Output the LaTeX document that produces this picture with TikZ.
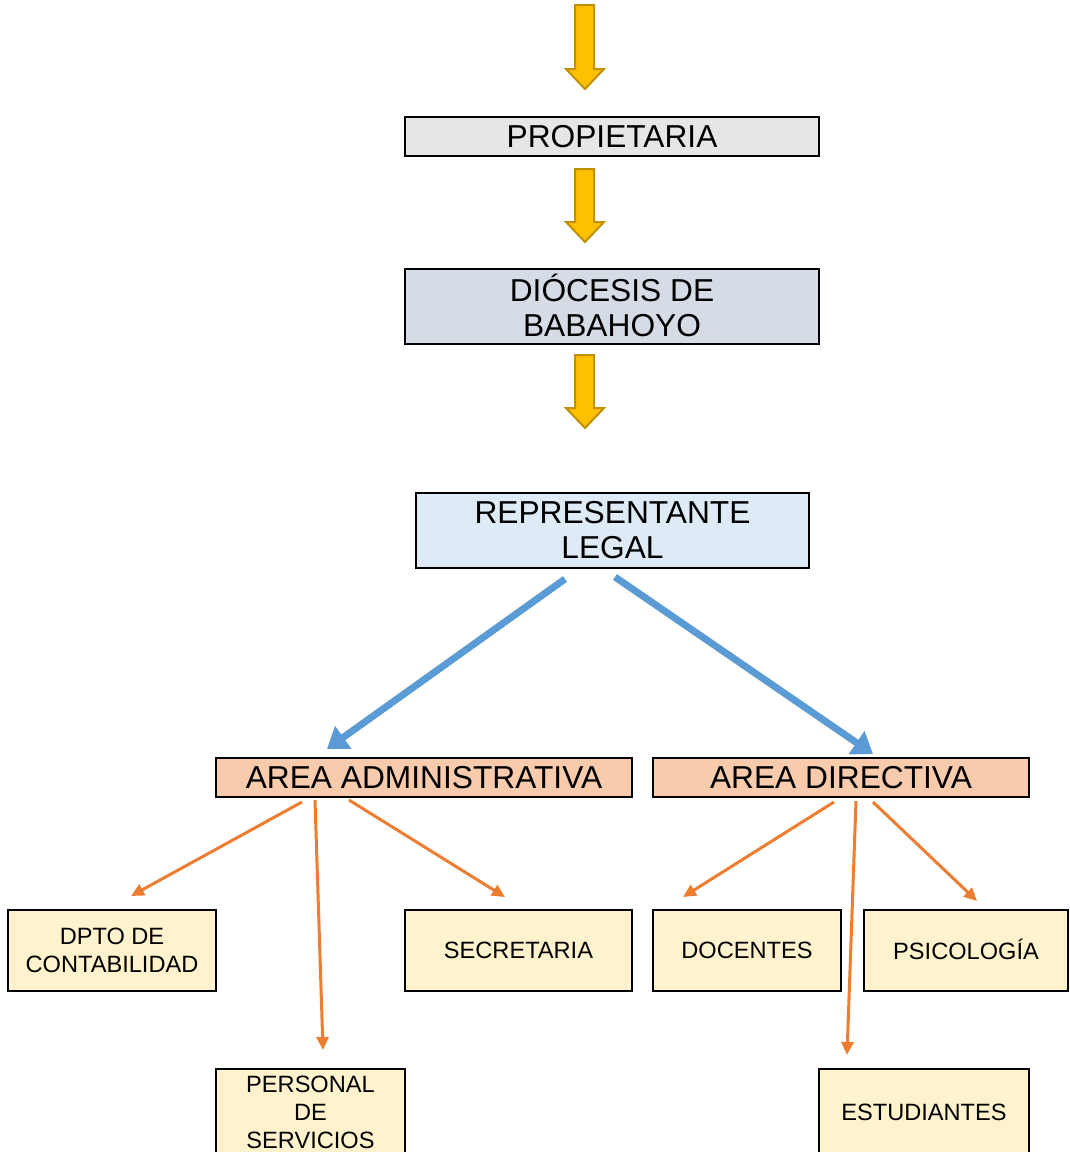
\documentclass[tikz,border=0pt]{standalone}
\usepackage{fontspec}
\setmainfont{Liberation Sans}
\usepackage{xcolor}
\usetikzlibrary{arrows.meta, positioning, calc}

\definecolor{propgray}{HTML}{E7E6E6}
\definecolor{diocblue}{HTML}{D6DCE5}
\definecolor{replight}{HTML}{DEEBF7}
\definecolor{areapeach}{HTML}{F8CBAD}
\definecolor{unitcream}{HTML}{FFF2CC}
\definecolor{arrowgold}{HTML}{FFC000}
\definecolor{arrowedge}{HTML}{BF9000}
\definecolor{linkblue}{HTML}{5B9BD5}
\definecolor{linkorange}{HTML}{ED7D31}

\begin{document}
\begin{tikzpicture}[
        x=1pt, y=-1pt,
        bigbox/.style={rectangle, draw, line width=2pt, align=center, inner sep=0pt,
            font=\fontsize{31.7}{35}\selectfont},
        unitbox/.style={rectangle, draw, line width=2pt, fill=unitcream, align=center, inner sep=0pt,
            font=\fontsize{23.6}{28}\selectfont},
        goldarrow/.style={fill=arrowgold, draw=arrowedge, line width=2pt, line join=miter},
        bluelink/.style={-{Triangle[length=20pt, width=27pt]}, line width=7pt, linkblue},
        orangelink/.style={-{Triangle[length=13pt, width=12pt]}, line width=3pt, linkorange}
    ]
        \useasboundingbox (0,0) rectangle (1069,1152);
        \clip (0,0) rectangle (1069,1152);

        % Upper chain
        \node[bigbox, fill=propgray, minimum width=414, minimum height=39] (prop) at (612,136.5) {PROPIETARIA};
        \node[bigbox, fill=diocblue, minimum width=414, minimum height=75, text depth=2pt] (dioc) at (612,306.5) {DIÓCESIS DE\\BABAHOYO};
        \node[bigbox, fill=replight, minimum width=393, minimum height=75] (rep) at (612.5,530.5) {REPRESENTANTE\\LEGAL};

        % Areas
        \node[bigbox, fill=areapeach, minimum width=416, minimum height=39] (adm) at (424,777.5) {AREA ADMINISTRATIVA};
        \node[bigbox, fill=areapeach, minimum width=376, minimum height=39] (dir) at (841,777.5) {AREA DIRECTIVA};

        % Units
        \node[unitbox, minimum width=208, minimum height=81] (dpto) at (112,950.5) {DPTO DE\\CONTABILIDAD};
        \node[unitbox, minimum width=227, minimum height=81] (secr) at (518.5,950.5) {SECRETARIA};
        \node[unitbox, minimum width=188, minimum height=81] (doc) at (747,950.5) {DOCENTES};
        \node[unitbox, minimum width=204, minimum height=81, text height=17pt, text depth=0pt] (psic) at (966,950.5) {PSICOLOGÍA};
        \node[unitbox, minimum width=189, minimum height=86] (pers) at (310.5,1112) {PERSONAL\\DE\\SERVICIOS};
        \node[unitbox, minimum width=210, minimum height=86] (estud) at (924,1112) {ESTUDIANTES};

        % Block arrows
        \foreach \top/\tip in {5/89, 169/242, 355/428}
            \draw[goldarrow] (575,\top) -- (594,\top) -- (594,\tip-20) -- (604,\tip-20)
                -- (585,\tip) -- (566,\tip-20) -- (575,\tip-20) -- cycle;

        % Legal representative to areas
        \draw[bluelink] ($(rep.south)+(-47.5,10)$) -- ($(adm.north)+(-97,-8)$);
        \draw[bluelink] ($(rep.south)+(2.5,8)$) -- ($(dir.north)+(32,-3)$);

        % Areas to units
        \draw[orangelink] ($(adm.south)+(-122,4)$) -- ($(dpto.north)+(19,-13)$);
        \draw[orangelink] ($(adm.south)+(-109,2)$) -- ($(pers.north)+(12.5,-18)$);
        \draw[orangelink] ($(adm.south)+(-75,2)$) -- ($(secr.north)+(-13.5,-12)$);
        \draw[orangelink] ($(dir.south)+(-7,4)$) -- ($(doc.north)+(-64,-12)$);
        \draw[orangelink] ($(dir.south)+(15,3)$) -- ($(estud.north)+(-77,-13)$);
        \draw[orangelink] ($(dir.south)+(32,4)$) -- ($(psic.north)+(11,-8)$);

    \end{tikzpicture}
\end{document}
